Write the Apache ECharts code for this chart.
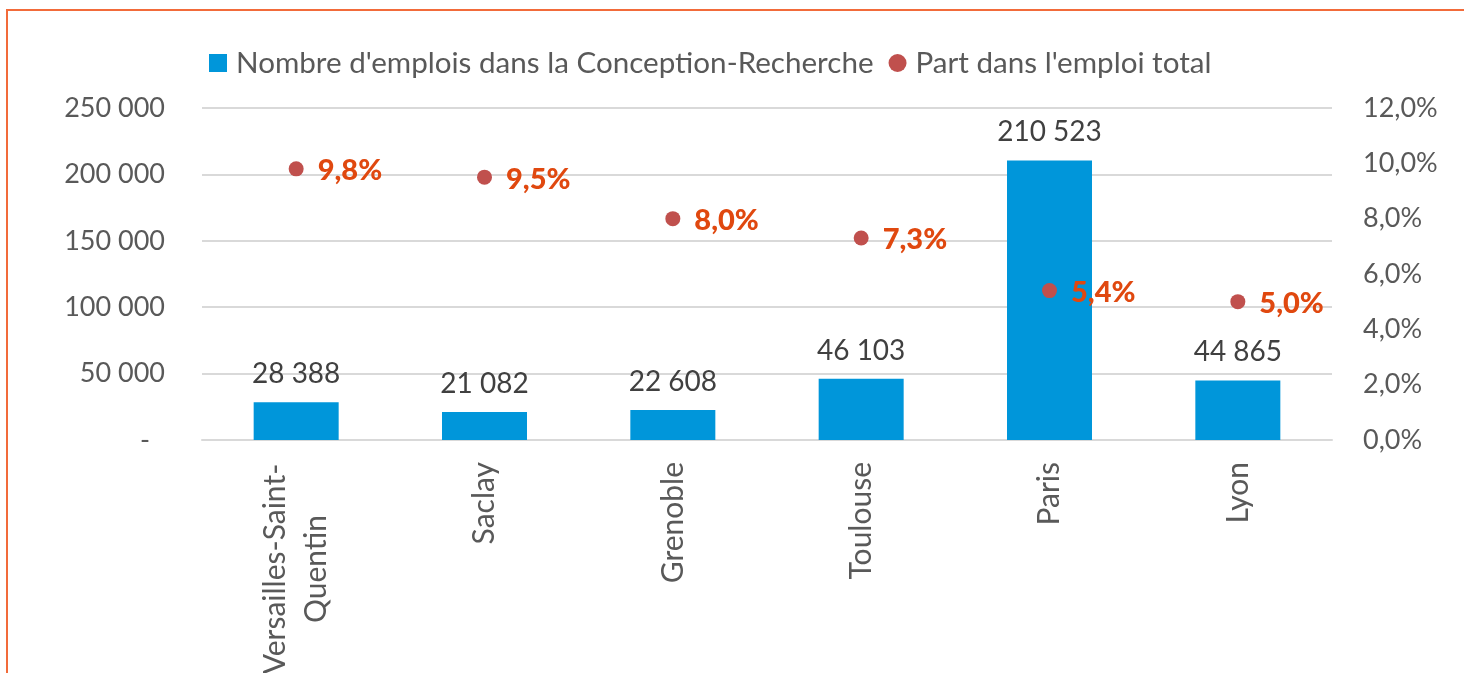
<!DOCTYPE html>
<html>
<head>
<meta charset="utf-8">
<script src="https://cdn.jsdelivr.net/npm/echarts@6/dist/echarts.min.js"></script>
<style>
html,body{margin:0;padding:0;background:#fff;}
#chart{width:1464px;height:673px;}
</style>
</head>
<body>
<div id="chart"></div>
<script>
const categories = ['Versailles-Saint-\nQuentin', 'Saclay', 'Grenoble', 'Toulouse', 'Paris', 'Lyon'];
const emplois = [28388, 21082, 22608, 46103, 210523, 44865];
const parts = [9.8, 9.5, 8.0, 7.3, 5.4, 5.0];
const seriesNames = ["Nombre d'emplois dans la Conception-Recherche", "Part dans l'emploi total"];
const leftTicks = { min: 0, max: 250000, interval: 50000 };
const rightTicks = { min: 0, max: 12, interval: 2 };

const FONT = 'Lato, "Open Sans", sans-serif';
function fmtThousands(v) {
  return String(Math.round(v)).replace(/\B(?=(\d{3})+(?!\d))/g, ' ');
}
function fmtPct(v) {
  return v.toFixed(1).replace('.', ',') + '%';
}

const chart = echarts.init(document.getElementById('chart'), null, { renderer: 'canvas' });
chart.setOption({
  animation: false,
  backgroundColor: '#ffffff',
  textStyle: { fontFamily: FONT },
  graphic: [{
    type: 'rect',
    shape: { x: 7, y: 10, width: 1600, height: 800 },
    style: { fill: 'none', stroke: '#F26B3A', lineWidth: 2 },
    silent: true
  }],
  legend: {
    left: 204,
    top: 43,
    itemWidth: 18,
    itemHeight: 18,
    itemGap: 15,
    textStyle: { fontFamily: FONT, fontSize: 29.6, color: '#595959', padding: [0, 0, 0, 4] },
    data: [
      { name: seriesNames[0], icon: 'rect' },
      { name: seriesNames[1], icon: 'circle', itemStyle: { color: '#C0504D', opacity: 1 } }
    ]
  },
  grid: { left: 202, right: 132, top: 108, bottom: 233, containLabel: false, outerBoundsMode: 'none' },
  xAxis: {
    type: 'category',
    data: categories,
    axisLine: { show: true, lineStyle: { color: '#D9D9D9', width: 2 } },
    axisTick: { show: false },
    axisLabel: {
      rotate: 90,
      margin: 22,
      interval: 0,
      fontFamily: FONT,
      fontSize: 30,
      color: '#595959',
      formatter: function (v) {
        if (v.indexOf('\n') >= 0) {
          return v.split('\n').map(function (s) { return '{c|' + s + '}'; }).join('\n');
        }
        return v;
      },
      rich: {
        c: { width: 214, align: 'center', fontFamily: FONT, fontSize: 30, color: '#595959', lineHeight: 41 }
      }
    }
  },
  yAxis: [
    {
      type: 'value',
      min: leftTicks.min, max: leftTicks.max, interval: leftTicks.interval,
      axisLine: { show: false },
      axisTick: { show: false },
      splitLine: { lineStyle: { color: '#D9D9D9', width: 2 } },
      axisLabel: {
        margin: 37,
        fontFamily: FONT,
        fontSize: 27,
        color: '#595959',
        formatter: function (v) { return v === 0 ? '{d|-}' : fmtThousands(v); },
        rich: { d: { fontFamily: FONT, fontSize: 27, color: '#595959', padding: [0, 15, 0, 0] } }
      }
    },
    {
      type: 'value',
      position: 'right',
      min: rightTicks.min, max: rightTicks.max, interval: rightTicks.interval,
      axisLine: { show: false },
      axisTick: { show: false },
      splitLine: { show: false },
      axisLabel: {
        margin: 31,
        fontFamily: FONT,
        fontSize: 27,
        color: '#595959',
        formatter: function (v) { return fmtPct(v); }
      }
    }
  ],
  series: [
    {
      name: seriesNames[0],
      type: 'bar',
      yAxisIndex: 0,
      data: emplois,
      barWidth: 85,
      itemStyle: { color: '#0096DA' },
      label: {
        show: true,
        position: 'top',
        distance: 14,
        fontFamily: FONT,
        fontSize: 28,
        color: '#404040',
        formatter: function (p) { return fmtThousands(p.value); }
      },
      z: 2
    },
    {
      name: seriesNames[1],
      type: 'scatter',
      yAxisIndex: 1,
      data: parts,
      symbol: 'circle',
      symbolSize: 15,
      itemStyle: { color: '#C0504D', opacity: 1 },
      label: {
        show: true,
        position: 'right',
        distance: 14,
        fontFamily: FONT,
        fontSize: 29,
        fontWeight: 900,
        color: '#E0480F',
        offset: [0, 2],
        formatter: function (p) { return fmtPct(p.value); }
      },
      z: 3
    }
  ]
});
</script>
</body>
</html>
